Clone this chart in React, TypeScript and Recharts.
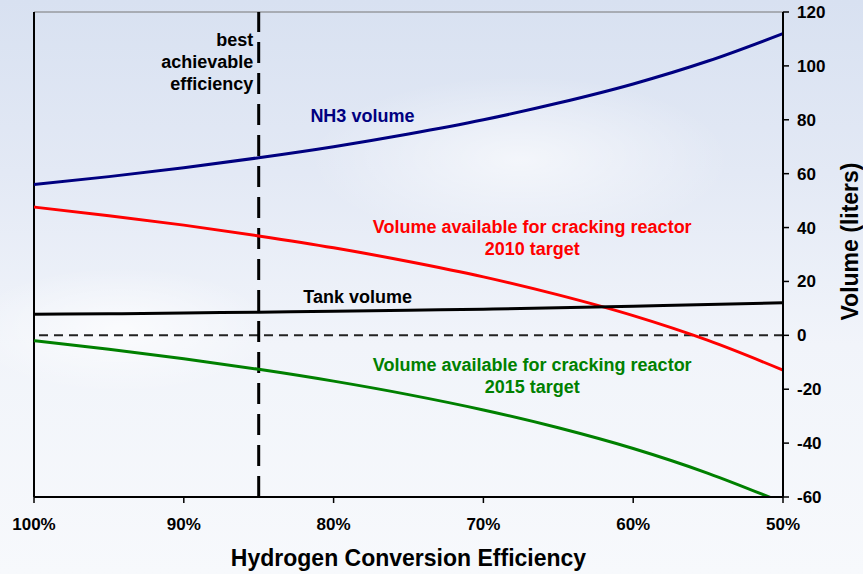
import React from 'react';
import { LineChart, Line, XAxis, YAxis, ReferenceLine, ReferenceDot } from 'recharts';

const efficiency = [100, 95, 90, 85, 80, 75, 70, 65, 60, 55, 50];
const nh3Volume = [56.0, 58.9, 62.2, 65.9, 70.0, 74.7, 80.0, 86.2, 93.3, 101.8, 112.0];
const reactor2010 = [47.6, 44.4, 40.9, 36.9, 32.5, 27.4, 21.7, 15.0, 7.3, -1.9, -12.9];
const tankVolume = [7.8, 8.0, 8.3, 8.6, 8.9, 9.3, 9.7, 10.2, 10.8, 11.4, 12.1];
const reactor2015 = [-2.0, -5.2, -8.7, -12.6, -17.0, -22.0, -27.7, -34.3, -42.0, -51.2, -62.1];

const xTicks = [100, 90, 80, 70, 60, 50];
const yTicks = [-60, -40, -20, 0, 20, 40, 60, 80, 100, 120];
const bestEfficiency = 85;

const data = efficiency.map((e, i) => ({
  eff: e,
  nh3: nh3Volume[i],
  r2010: reactor2010[i],
  tank: tankVolume[i],
  r2015: reactor2015[i],
}));

const FONT = 'Arial, "Liberation Sans", Helvetica, sans-serif';

const Ann = (props: any) => {
  const { viewBox, text, anchor, color, size } = props;
  if (!viewBox) return null;
  return (
    <text
      x={viewBox.x}
      y={viewBox.y}
      textAnchor={anchor || 'start'}
      fill={color || '#000'}
      fontFamily={FONT}
      fontWeight="bold"
      fontSize={size || 18}
    >
      {text}
    </text>
  );
};

const XTitle = (props: any) => {
  const { viewBox } = props;
  if (!viewBox) return null;
  return (
    <text
      x={viewBox.x + viewBox.width / 2}
      y={viewBox.y + 69}
      textAnchor="middle"
      fill="#000"
      fontFamily={FONT}
      fontWeight="bold"
      fontSize={23}
    >
      Hydrogen Conversion Efficiency
    </text>
  );
};

const YTitle = (props: any) => {
  const { viewBox } = props;
  if (!viewBox) return null;
  const cx = viewBox.x + 67;
  const cy = viewBox.y + viewBox.height / 2 - 13;
  return (
    <text
      x={cx}
      y={cy}
      transform={`rotate(-90 ${cx} ${cy})`}
      textAnchor="middle"
      dominantBaseline="central"
      fill="#000"
      fontFamily={FONT}
      fontWeight="bold"
      fontSize={23}
    >
      Volume (liters)
    </text>
  );
};

const dotProps = { r: 0, fill: 'none', stroke: 'none' } as any;

export default function App() {
  return (
    <div
      style={{
        position: 'absolute',
        left: 0,
        top: 0,
        width: 863,
        height: 574,
        background:
          'radial-gradient(ellipse 220px 90px at 120px 330px, rgba(255,255,255,0.7), rgba(255,255,255,0) 70%),' +
          'radial-gradient(ellipse 300px 120px at 520px 160px, rgba(255,255,255,0.6), rgba(255,255,255,0) 70%),' +
          'linear-gradient(to bottom, #d8e1f1 0%, #e3e9f5 30%, #f1f4fa 60%, #f7f9fc 100%)',
      }}
    >
      <LineChart
        width={863}
        height={574}
        data={data}
        margin={{ top: 12, right: 0, bottom: 0, left: 34 }}
      >
        <XAxis
          dataKey="eff"
          type="number"
          domain={[50, 100]}
          reversed
          ticks={xTicks}
          tickFormatter={(v: number) => `${v}%`}
          height={77}
          tickSize={6}
          tickMargin={15}
          axisLine={{ stroke: '#000', strokeWidth: 2 }}
          tickLine={{ stroke: '#000', strokeWidth: 1.5 }}
          tick={{ fill: '#000', fontSize: 17, fontWeight: 'bold', fontFamily: FONT }}
          label={<XTitle />}
        />
        <YAxis
          orientation="right"
          type="number"
          domain={[-60, 120]}
          ticks={yTicks}
          allowDataOverflow
          width={80}
          tickSize={6}
          tickMargin={8}
          axisLine={{ stroke: '#000', strokeWidth: 2 }}
          tickLine={{ stroke: '#000', strokeWidth: 1.5 }}
          tick={{ fill: '#000', fontSize: 17, fontWeight: 'bold', fontFamily: FONT, textAnchor: 'start' }}
          label={<YTitle />}
        />
        <ReferenceLine y={120} stroke="#777" strokeWidth={1} />
        <ReferenceLine x={100} stroke="#000" strokeWidth={2} />
        <ReferenceLine y={0} stroke="#222" strokeWidth={2} strokeDasharray="9 6" />
        <ReferenceLine x={bestEfficiency} stroke="#000" strokeWidth={3} strokeDasharray="21 10" />

        <Line type="monotone" dataKey="nh3" stroke="#000080" strokeWidth={3} dot={false} isAnimationActive={false} />
        <Line type="monotone" dataKey="r2010" stroke="#ff0000" strokeWidth={3} dot={false} isAnimationActive={false} />
        <Line type="monotone" dataKey="tank" stroke="#000" strokeWidth={3} dot={false} isAnimationActive={false} />
        <Line type="monotone" dataKey="r2015" stroke="#008000" strokeWidth={3} dot={false} isAnimationActive={false} />

        <ReferenceDot x={85.36} y={107.4} {...dotProps} label={<Ann text="best" anchor="end" />} />
        <ReferenceDot x={85.36} y={99.2} {...dotProps} label={<Ann text="achievable" anchor="end" />} />
        <ReferenceDot x={85.36} y={91.0} {...dotProps} label={<Ann text="efficiency" anchor="end" />} />
        <ReferenceDot x={81.55} y={79.3} {...dotProps} label={<Ann text="NH3 volume" color="#000080" />} />
        <ReferenceDot x={66.74} y={37.9} {...dotProps} label={<Ann text="Volume available for cracking reactor" anchor="middle" color="#ff0000" />} />
        <ReferenceDot x={66.74} y={29.8} {...dotProps} label={<Ann text="2010 target" anchor="middle" color="#ff0000" />} />
        <ReferenceDot x={82.02} y={12.1} {...dotProps} label={<Ann text="Tank volume" />} />
        <ReferenceDot x={66.74} y={-13.1} {...dotProps} label={<Ann text="Volume available for cracking reactor" anchor="middle" color="#008000" />} />
        <ReferenceDot x={66.74} y={-21.3} {...dotProps} label={<Ann text="2015 target" anchor="middle" color="#008000" />} />
      </LineChart>
    </div>
  );
}
